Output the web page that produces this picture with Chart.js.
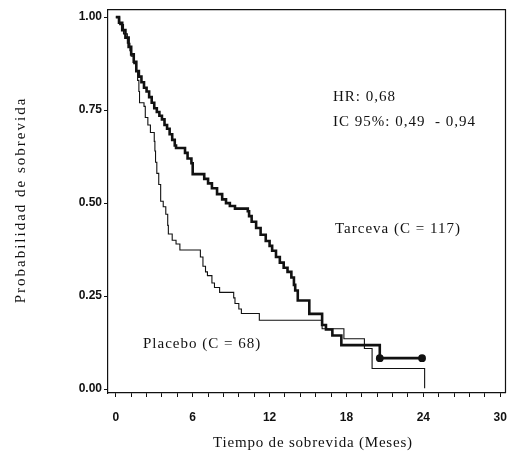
<!DOCTYPE html>
<html>
<head>
<meta charset="utf-8">
<script src="https://cdn.jsdelivr.net/npm/chart.js@4.4.1/dist/chart.umd.min.js"></script>
<style>
  html, body { margin:0; padding:0; background:#fff; }
  #wrap { width:520px; height:464px; }
</style>
</head>
<body>
<div id="wrap"><canvas id="kmChart" width="520" height="464"></canvas></div>
<script>
// ── Data ───────────────────────────────────────
const tarcevaMonths = [0,0.25,0.5,0.75,1.0,1.2,1.4,1.6,1.8,2.0,2.2,2.4,2.6,2.8,3.0,3.2,3.4,3.6,3.8,4.0,4.2,4.4,4.6,4.7,5.4,5.6,5.9,6.0,6.9,7.2,7.5,7.9,8.3,8.6,8.9,9.3,10.3,10.4,10.6,10.95,11.3,11.7,12.0,12.2,12.5,12.8,13.1,13.4,13.7,13.9,14.0,14.2,15.1,16.1,16.4,16.9,17.6,20.6,23.9];
const tarcevaSurv   = [1,0.985,0.965,0.945,0.92,0.90,0.88,0.855,0.84,0.825,0.81,0.80,0.785,0.77,0.755,0.745,0.735,0.725,0.71,0.70,0.685,0.67,0.655,0.648,0.635,0.62,0.607,0.578,0.565,0.553,0.54,0.524,0.51,0.50,0.492,0.485,0.478,0.465,0.45,0.433,0.415,0.398,0.385,0.372,0.355,0.34,0.326,0.315,0.30,0.28,0.265,0.238,0.202,0.172,0.16,0.144,0.118,0.083,0.083];

const placeboMonths = [0,0.3,0.6,0.9,1.1,1.2,1.4,1.6,1.7,1.8,1.85,2.2,2.3,2.5,2.7,3.0,3.05,3.1,3.2,3.35,3.5,3.7,3.9,4.05,4.1,4.4,4.7,5.0,6.6,6.8,7.0,7.15,7.5,7.7,8.1,9.2,9.3,9.6,9.8,11.2,16.1,17.8,19.4,20.0,24.1];
const placeboSurv   = [1,0.98,0.955,0.93,0.91,0.895,0.875,0.855,0.83,0.80,0.77,0.76,0.73,0.71,0.69,0.666,0.64,0.61,0.58,0.55,0.505,0.49,0.47,0.44,0.417,0.40,0.39,0.374,0.355,0.33,0.315,0.305,0.285,0.273,0.26,0.245,0.23,0.215,0.203,0.185,0.162,0.135,0.109,0.055,0.002];

const tarcevaCensored = [20.6, 23.9];      // months with a censor dot
const xTickLabels = [0, 6, 12, 18, 24, 30];
const yTickValues = [0, 0.25, 0.5, 0.75, 1];

const annotations = [
  { text:'HR: 0,68',             x:333, y:101 },
  { text:'IC 95%: 0,49  - 0,94', x:333, y:126 },
  { text:'Tarceva (C = 117)',    x:335, y:233 },
  { text:'Placebo (C = 68)',     x:143, y:348 },
];

// ── Helpers ────────────────────────────────────
const INK = '#111';
const tickFont = { family:"'Liberation Sans Narrow', 'Arial Narrow', 'Liberation Sans', sans-serif", size:12, weight:'bold' };
const serif = "'Liberation Serif', 'DejaVu Serif', serif";

const toPoints = (xs, ys) => xs.map((m, i) => ({ x:m, y:ys[i] }));

// minor ticks every 1.2 months between the labelled ones
const xAllTicks = [];
for (let i = 0; i <= 25; i++) xAllTicks.push(Math.round(i * 12) / 10);
const isMajor = v => xTickLabels.some(t => Math.abs(t - v) < 1e-6);

// ── Frame + texts plugin ───────────────────────
const decorations = {
  id: 'decorations',
  afterDraw(chart) {
    const { ctx, chartArea: a } = chart;
    ctx.save();
    ctx.strokeStyle = INK;
    ctx.lineWidth = 1.2;
    ctx.beginPath();
    ctx.moveTo(a.left, a.top + 0.5);
    ctx.lineTo(a.right, a.top + 0.5);
    ctx.moveTo(a.right - 0.5, a.top);
    ctx.lineTo(a.right - 0.5, a.bottom);
    ctx.stroke();

    ctx.fillStyle = INK;
    ctx.font = '15px ' + serif;
    ctx.textBaseline = 'alphabetic';
    ctx.textAlign = 'left';
    ctx.letterSpacing = '1px';
    annotations.forEach(t => ctx.fillText(t.text, t.x, t.y));

    // axis titles
    ctx.textAlign = 'center';
    ctx.textBaseline = 'middle';
    ctx.letterSpacing = '0.8px';
    ctx.fillText('Tiempo de sobrevida (Meses)', 313, 443);

    ctx.translate(21, 200);
    ctx.rotate(-Math.PI / 2);
    ctx.letterSpacing = '2px';
    ctx.fillText('Probabilidad de sobrevida', 0, 0);
    ctx.restore();
  }
};

// ── Chart ──────────────────────────────────────
const ctx = document.getElementById('kmChart').getContext('2d');

new Chart(ctx, {
  type: 'line',
  data: {
    datasets: [
      {
        label: 'Tarceva',
        data: toPoints(tarcevaMonths, tarcevaSurv),
        stepped: 'before',            // hold previous value, then drop
        borderColor: INK,
        borderWidth: 2.6,
        fill: false,
        pointBackgroundColor: INK,
        pointBorderColor: INK,
        pointRadius: c => (c.raw && tarcevaCensored.includes(c.raw.x) ? 2.6 : 0),
      },
      {
        label: 'Placebo',
        data: toPoints(placeboMonths, placeboSurv),
        stepped: 'before',
        borderColor: INK,
        borderWidth: 1.1,
        fill: false,
        pointRadius: 0,
      }
    ]
  },
  options: {
    responsive: false,
    animation: false,
    layout: { padding: { top: 7, right: 3, left: 0, bottom: 0 } },
    plugins: { legend: { display: false }, tooltip: { enabled: false } },
    scales: {
      x: {
        type: 'linear',
        min: -0.61,
        max: 30.45,
        afterBuildTicks: s => { s.ticks = xAllTicks.map(v => ({ value: v })); },
        afterFit: s => { s.height = 71; },
        ticks: {
          autoSkip: false, maxRotation: 0, padding: 13,
          color: INK, font: tickFont,
          callback: v => (isMajor(v) ? String(Math.round(v)) : '')
        },
        grid: { drawOnChartArea: false, tickLength: 4, color: INK, lineWidth: 1 },
        border: { color: INK, width: 1.2 }
      },
      y: {
        type: 'linear',
        min: -0.0107,
        max: 1.0214,
        afterBuildTicks: s => { s.ticks = yTickValues.map(v => ({ value: v })); },
        afterFit: s => { s.width = 108; },
        ticks: {
          padding: 2, color: INK, font: tickFont,
          callback: v => Number(v).toFixed(2)
        },
        grid: { drawOnChartArea: false, tickLength: 4, color: INK, lineWidth: 1 },
        border: { color: INK, width: 1.2 }
      }
    }
  },
  plugins: [decorations]
});
</script>
</body>
</html>
